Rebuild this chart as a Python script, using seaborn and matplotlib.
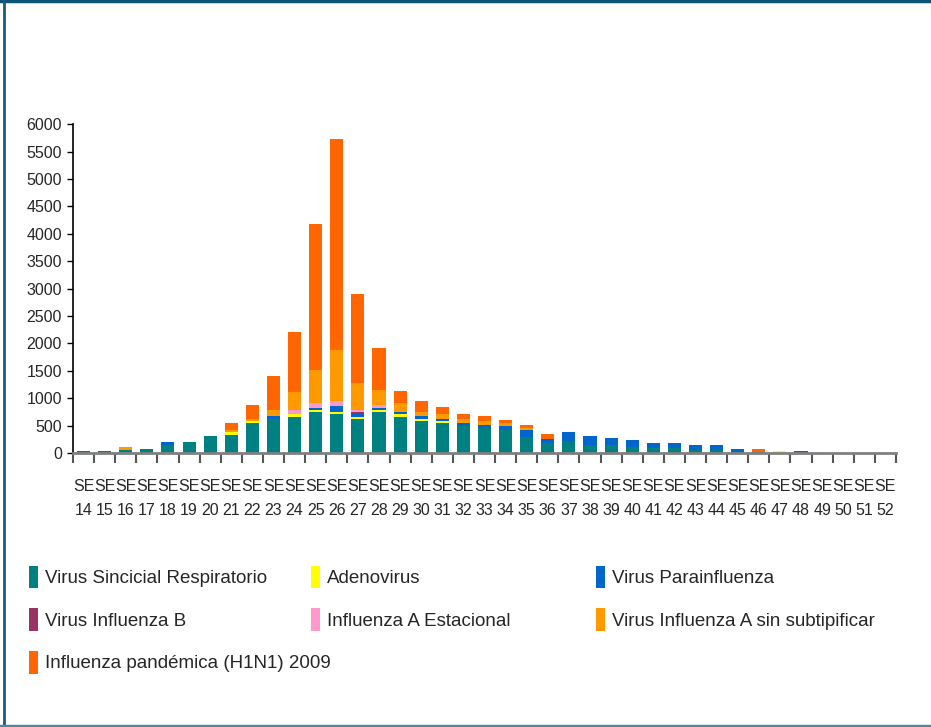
import numpy as np
import pandas as pd
import matplotlib
matplotlib.use("Agg")
import matplotlib.pyplot as plt
from matplotlib.patches import Patch
from matplotlib.lines import Line2D
import seaborn as sns

# Semanas epidemiologicas SE 14 .. SE 52
weeks = list(range(14, 53))

# casos por virus y semana
vsr = [40, 40, 60, 80, 150, 200, 310, 330, 550, 620, 655, 745, 710, 620, 747, 656, 583, 547,
       500, 456, 419, 292, 182, 219, 146, 146, 109, 91, 91, 55, 55, 18, 20, 0, 0, 0, 0, 0, 0]
adenovirus = [0, 0, 0, 0, 0, 0, 0, 55, 35, 0, 55, 37, 36, 36, 37, 55, 37, 36,
              0, 0, 0, 0, 0, 0, 0, 0, 0, 0, 0, 0, 0, 0, 0, 30, 0, 0, 0, 0, 0]
parainfluenza = [0, 0, 0, 0, 50, 0, 0, 0, 0, 55, 0, 36, 110, 73, 36, 36, 55, 37,
                 50, 54, 73, 127, 73, 164, 164, 127, 128, 91, 91, 91, 91, 55, 0, 0, 30, 0, 0, 0, 0]
influenza_b = [0, 0, 0, 0, 0, 0, 0, 0, 0, 0, 0, 0, 0, 18, 0, 0, 0, 0,
               0, 0, 0, 0, 0, 0, 0, 0, 0, 0, 0, 0, 0, 0, 0, 0, 0, 0, 0, 0, 0]
a_estacional = [0, 0, 0, 0, 0, 0, 0, 0, 0, 0, 75, 91, 91, 37, 55, 0, 0, 0,
                0, 0, 0, 0, 0, 0, 0, 0, 0, 0, 0, 0, 0, 0, 0, 0, 0, 0, 0, 0, 0]
a_sin_subtipificar = [0, 0, 50, 0, 0, 0, 0, 35, 35, 110, 330, 600, 930, 490, 275, 165, 72, 91,
                      75, 73, 55, 37, 0, 0, 0, 0, 0, 0, 0, 0, 0, 0, 0, 0, 0, 0, 0, 0, 0]
h1n1 = [0, 0, 0, 0, 0, 0, 0, 130, 255, 620, 1095, 2680, 3850, 1625, 765, 220, 200, 127,
        90, 92, 55, 54, 91, 0, 0, 0, 0, 0, 0, 0, 0, 0, 50, 0, 0, 0, 0, 0, 0]

series_names = ["Virus Sincicial Respiratorio", "Adenovirus", "Virus Parainfluenza",
                "Virus Influenza B", "Influenza A Estacional",
                "Virus Influenza A sin subtipificar", "Influenza pandémica (H1N1) 2009"]
series_values = [vsr, adenovirus, parainfluenza, influenza_b, a_estacional,
                 a_sin_subtipificar, h1n1]
colors = ["#008080", "#FFFF00", "#0066CC", "#993366", "#FF99CC", "#FF9900", "#FF6600"]

# etiquetas en dos lineas para que no se pisen
tick_labels = [f"SE\n{w}" for w in weeks]

sns.set_style("white")
plt.rcParams["font.family"] = ["Liberation Sans", "DejaVu Sans"]

df = pd.DataFrame(dict(zip(series_names, series_values)))
df["semana"] = [f"SE {w}" for w in weeks]
cum = df[series_names].cumsum(axis=1)

fig = plt.figure(figsize=(9.31, 7.27), dpi=100)
ax = fig.add_axes([0.0784, 0.377, 0.884, 0.452])

# barras apiladas: se dibuja el acumulado de arriba hacia abajo
for name, col in reversed(list(zip(series_names, colors))):
    sns.barplot(x=df["semana"], y=cum[name], color=col, width=0.62,
                saturation=1, ax=ax, linewidth=0, order=df["semana"])

ax.set_ylim(0, 6000)
ax.set_xlim(-0.5, len(weeks) - 0.5)
ax.set_yticks(np.arange(0, 6001, 500))
ax.tick_params(axis="y", labelsize=11.5, length=4, width=1, color="black", pad=4, left=True)
ax.set_xticks(range(len(weeks)))
ax.set_xticklabels(tick_labels, fontsize=11.5, linespacing=1.75, va="top")
ax.tick_params(axis="x", which="major", length=0, pad=19)
ax.set_xticks(np.arange(-0.5, len(weeks), 1), minor=True)
ax.tick_params(axis="x", which="minor", length=7, width=1.5, color="#555555", bottom=True)
ax.set_xlabel("")
ax.set_ylabel("")
for s in ["top", "right"]:
    ax.spines[s].set_visible(False)
ax.spines["left"].set_color("black")
ax.spines["left"].set_linewidth(1.2)
ax.spines["bottom"].set_color("#808080")
ax.spines["bottom"].set_linewidth(2)

# leyenda en tres columnas de ancho fijo
handles = [Patch(facecolor=c, edgecolor="none") for c in colors]
columns = [([0, 3, 6], 0.031), ([1, 4], 0.334), ([2, 5], 0.640)]
for idx, x0 in columns:
    fig.legend([handles[i] for i in idx], [series_names[i] for i in idx],
               loc="upper left", bbox_to_anchor=(x0, 0.222), frameon=False,
               fontsize=13.5, handlelength=0.5, handleheight=1.5, handletextpad=0.35,
               labelspacing=1.05, borderpad=0, borderaxespad=0)

# marco de la diapositiva
fig.add_artist(Line2D([0, 1], [0.999, 0.999], color="#0e5575", lw=2.5, transform=fig.transFigure))
fig.add_artist(Line2D([0.0045, 0.0045], [0, 1], color="#1e5a78", lw=2, transform=fig.transFigure))
fig.add_artist(Line2D([0, 1], [0.002, 0.002], color="#4a8aa0", lw=2.5, transform=fig.transFigure))

fig.savefig("out.png", dpi=100)
